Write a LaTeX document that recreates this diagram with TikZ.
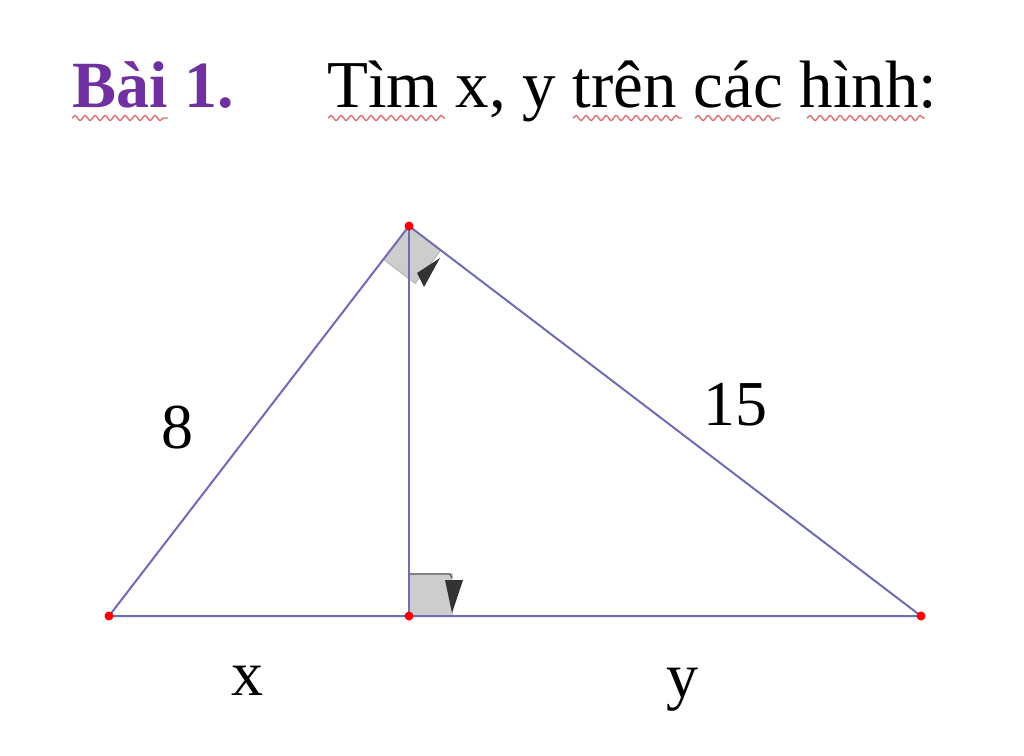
\documentclass[tikz,border=0pt]{standalone}
\usepackage{fontspec}
\setmainfont{Liberation Serif}
\usetikzlibrary{decorations.pathmorphing}
\definecolor{edgecol}{HTML}{6E6EB4}
\definecolor{titlepurple}{HTML}{7030A0}
\definecolor{wavered}{HTML}{E07070}
\definecolor{markgray}{HTML}{CDCDCD}
\definecolor{markdark}{HTML}{333333}
\begin{document}
\begin{tikzpicture}[x=1pt,y=-1pt,
  edge/.style={draw=edgecol,line width=2pt},
  pt/.style={circle,fill=red,inner sep=0pt,minimum size=9pt},
  lbl/.style={font=\fontsize{64}{70}\selectfont,inner sep=0pt},
  ttl/.style={font=\fontsize{67}{72}\selectfont,inner sep=0pt,anchor=base west},
  wave/.style={draw=wavered,line width=1.4pt,decorate,decoration={snake,segment length=10pt,amplitude=2.5pt}},
  sqmark/.style={fill=markgray},
  tri/.style={fill=markdark}]
\useasboundingbox (0,0) rectangle (1024,755);
\fill[white] (0,0) rectangle (1024,755);
% title
\node[ttl,text=titlepurple,font=\fontsize{66}{72}\selectfont\bfseries] (t1) at (72,107) {Bài 1.};
\node[ttl] (t2) at (327,107) {Tìm x, y trên các hình:};
\draw[wave] (72,118) -- (168,118);
\draw[wave] (328,118) -- (445,118);
\draw[wave] (573,118) -- (682,118);
\draw[wave] (695,118) -- (780,118);
\draw[wave] (807,118) -- (925,118);
% vertices
\coordinate (A) at (409,226);
\coordinate (B) at (109,616);
\coordinate (H) at (409,616);
\coordinate (C) at (921,616);
% right angle marks (fill)
\fill[sqmark] (A) -- (440.8,250.2) -- (415.2,283.5) -- (383.4,259.3) -- cycle;
\fill[sqmark] (409,573) rectangle (453,616);
\draw[gray!70!black,line width=1.2pt] (409,574) -- (450,574) -- (452,578);
\draw[gray!60,line width=0.8pt] (383.4,259.3) -- (415.2,283.5) -- (440.8,250.2);
% edges
\draw[edge] (A) -- (B) -- (C) -- cycle;
\draw[edge] (A) -- (H);
% dark wedges
\fill[tri] (440,258) -- (417,273) -- (424,287) -- cycle;
\fill[tri] (445,580) -- (463,580) -- (452,613) -- cycle;
% points
\node[pt] (pA) at (A) {};
\node[pt] (pB) at (B) {};
\node[pt] (pH) at (H) {};
\node[pt] (pC) at (C) {};
% labels
\node[lbl,anchor=base] (l8) at (177,448) {8};
\node[lbl,anchor=base] (l15) at (735,425) {15};
\node[lbl,anchor=base] (lx) at (247,695) {x};
\node[lbl,anchor=base] (ly) at (682,697) {y};
\end{tikzpicture}
\end{document}
